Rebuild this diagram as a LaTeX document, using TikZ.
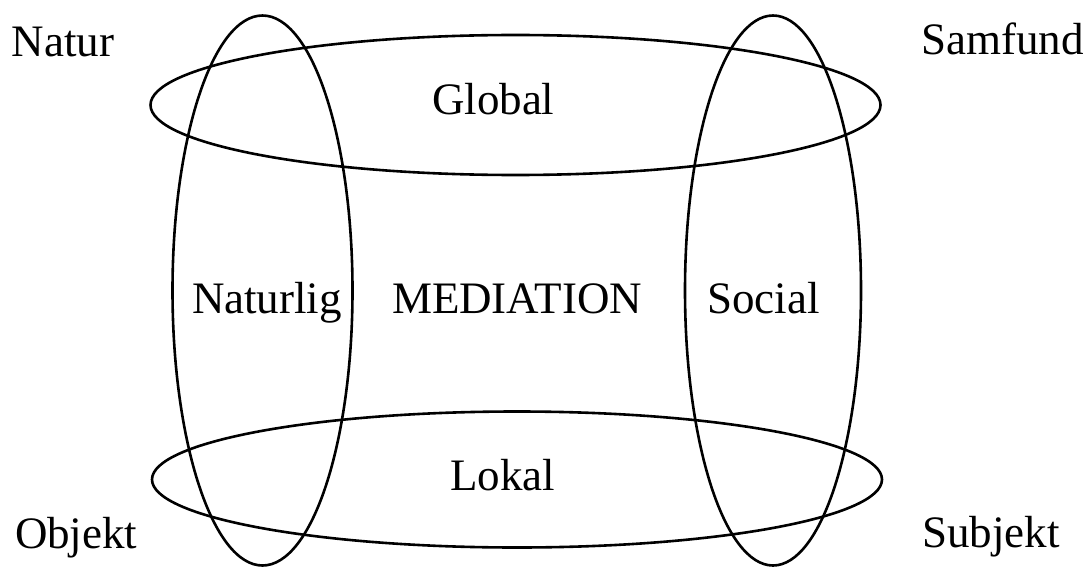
\documentclass[tikz,border=0pt]{standalone}
\usepackage{fontspec}
\setmainfont{Liberation Serif}
\begin{document}
\begin{tikzpicture}[x=1pt,y=-1pt,
  ring/.style={draw=black,line width=2.6pt},
  lbl/.style={inner sep=0pt,outer sep=0pt,anchor=base west,font=\fontsize{45}{54}\selectfont}]
\useasboundingbox (0,0) rectangle (1089,567);
% ellipses
\draw[ring] (515.5,105) ellipse [x radius=365pt, y radius=70pt];
\draw[ring] (517,479.5) ellipse [x radius=365pt, y radius=68pt];
\draw[ring] (262.5,290.5) ellipse [x radius=90pt, y radius=275pt];
\draw[ring] (773,290.5) ellipse [x radius=88pt, y radius=275pt];
% labels
\node[lbl] (natur) at (12,57) {Natur};
\node[lbl] (samfund) at (921,55) {Samfund};
\node[lbl] (objekt) at (15,548) {Objekt};
\node[lbl] (subjekt) at (922,547) {Subjekt};
\node[lbl] (global) at (432,115) {Global};
\node[lbl] (lokal) at (450,490) {Lokal};
\node[lbl] (naturlig) at (192,313) {Naturlig};
\node[lbl] (mediation) at (392,313) {MEDIATION};
\node[lbl] (social) at (707,313) {Social};
\end{tikzpicture}
\end{document}
